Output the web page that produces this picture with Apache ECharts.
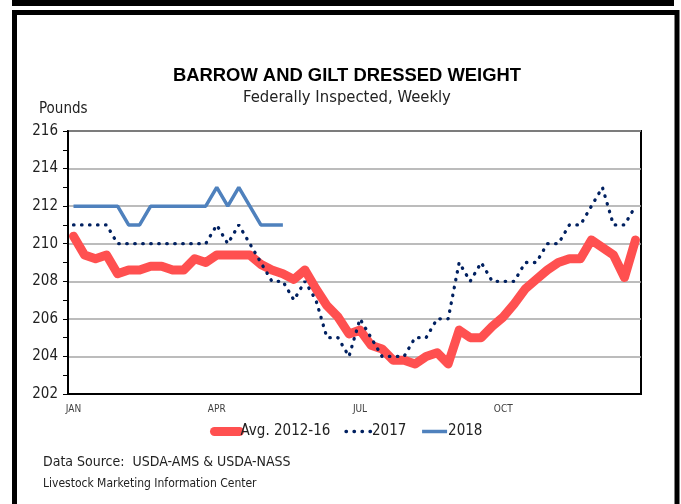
<!DOCTYPE html>
<html>
<head>
<meta charset="utf-8">
<script src="https://cdn.jsdelivr.net/npm/echarts@6/dist/echarts.min.js"></script>
<style>
  html, body { margin: 0; padding: 0; background: #fff; }
  #chart { width: 681px; height: 504px; }
</style>
</head>
<body>
<div id="chart"></div>
<script>
// weekly values
const weeks = ['1', '2', '3', '4', '5', '6', '7', '8', '9', '10', '11', '12', '13',
  '14', '15', '16', '17', '18', '19', '20', '21', '22', '23', '24', '25', '26',
  '27', '28', '29', '30', '31', '32', '33', '34', '35', '36', '37', '38', '39',
  '40', '41', '42', '43', '44', '45', '46', '47', '48', '49', '50', '51', '52'];
const monthLabels = ['JAN', 'APR', 'JUL', 'OCT'];
const yTicks = [202, 216, 2];

const avg1216 = [210.4, 209.4, 209.2, 209.4, 208.4, 208.6, 208.6, 208.8, 208.8, 208.6,
  208.6, 209.2, 209.0, 209.4, 209.4, 209.4, 209.4, 208.9, 208.6, 208.4,
  208.1, 208.6, 207.6, 206.7, 206.1, 205.2, 205.4, 204.6, 204.4, 203.8,
  203.8, 203.6, 204.0, 204.2, 203.6, 205.4, 205.0, 205.0, 205.6, 206.1,
  206.8, 207.6, 208.1, 208.6, 209.0, 209.2, 209.2, 210.2, 209.8, 209.4,
  208.2, 210.2];
const y2017 = [211, 211, 211, 211, 210, 210, 210, 210, 210, 210,
  210, 210, 210, 211, 210, 211, 210, 209, 208, 208,
  207, 208, 207, 205, 205, 204, 206, 205, 204, 204,
  204, 205, 205, 206, 206, 209, 208, 209, 208, 208,
  208, 209, 209, 210, 210, 211, 211, 212, 213, 211,
  211, 212];
const y2018 = [212, 212, 212, 212, 212, 211, 211, 212, 212, 212,
  212, 212, 212, 213, 212, 213, 212, 211, 211, 211];

const narrow = "'Liberation Sans Narrow', 'DejaVu Sans Condensed', Roboto, sans-serif";

const red = { width: 9, color: '#ff5050', cap: 'round', join: 'round' };
const dots = { width: 3.3, color: '#002060', type: [0.5, 7.5], cap: 'round' };
const blue = { width: 3.5, color: '#4f81bd' };

const chart = echarts.init(document.getElementById('chart'));
chart.setOption({
  animation: false,
  title: {
    text: 'BARROW AND GILT DRESSED WEIGHT',
    subtext: 'Federally Inspected, Weekly',
    left: 342,
    top: 62,
    textAlign: 'center',
    itemGap: 4,
    textStyle: { fontFamily: "'Liberation Sans', Arial, sans-serif", fontWeight: 'bold', fontSize: 18.4, color: '#000' },
    subtextStyle: { fontFamily: narrow, fontSize: 16.5, color: '#222' }
  },
  legend: {
    top: 424,
    left: 210,
    padding: 0,
    itemWidth: 25,
    itemHeight: 10,
    itemGap: 14,
    itemStyle: { opacity: 0 },
    textStyle: { fontFamily: narrow, fontSize: 15, color: '#222', padding: [0, 0, 0, -4] },
    data: [
      { name: 'Avg. 2012-16', lineStyle: red },
      { name: '2017', lineStyle: dots },
      { name: '2018', lineStyle: blue }
    ]
  },
  grid: {
    left: 68, right: 40, top: 131, bottom: 110,
    show: true, borderColor: '#000', borderWidth: 2
  },
  xAxis: {
    type: 'category',
    data: weeks,
    boundaryGap: true,
    axisLine: { lineStyle: { color: '#000', width: 2 } },
    axisTick: { interval: 0, length: 4, lineStyle: { color: '#000' } },
    axisLabel: {
      interval: 0,
      margin: 10,
      fontFamily: narrow,
      fontSize: 10,
      color: '#404040',
      formatter: (v, i) => (i % 13 === 0 ? monthLabels[i / 13] : '')
    },
    splitLine: { show: false }
  },
  yAxis: {
    type: 'value',
    min: yTicks[0],
    max: yTicks[1],
    interval: yTicks[2],
    axisLine: { show: true, lineStyle: { color: '#000', width: 2 } },
    axisTick: { show: true, length: 5, lineStyle: { color: '#000' } },
    minorTick: { show: true, splitNumber: 2, length: 5, lineStyle: { color: '#000' } },
    axisLabel: { margin: 10, fontFamily: narrow, fontSize: 15, color: '#222' },
    splitLine: { lineStyle: { color: '#a6a6a6', width: 1.5 } }
  },
  series: [
    { name: 'Avg. 2012-16', type: 'line', data: avg1216, symbol: 'none', color: red.color, lineStyle: red },
    { name: '2017', type: 'line', data: y2017, symbol: 'none', color: dots.color, lineStyle: dots },
    { name: '2018', type: 'line', data: y2018, symbol: 'none', color: blue.color, lineStyle: blue }
  ],
  graphic: [
    { type: 'rect', shape: { x: 12, y: 0, width: 662, height: 6 }, style: { fill: '#000' } },
    { type: 'rect', shape: { x: 14.5, y: 12.5, width: 662.5, height: 600 }, style: { fill: null, stroke: '#000', lineWidth: 5 } },
    { type: 'text', left: 39, top: 102, style: { text: 'Pounds', fontFamily: narrow, fontSize: 15, fill: '#222' } },
    { type: 'text', left: 43, top: 455, style: { text: 'Data Source:  USDA-AMS & USDA-NASS', fontFamily: narrow, fontSize: 14, fill: '#222' } },
    { type: 'text', left: 43, top: 478, style: { text: 'Livestock Marketing Information Center', fontFamily: narrow, fontSize: 12, fill: '#222' } }
  ]
});
</script>
</body>
</html>
